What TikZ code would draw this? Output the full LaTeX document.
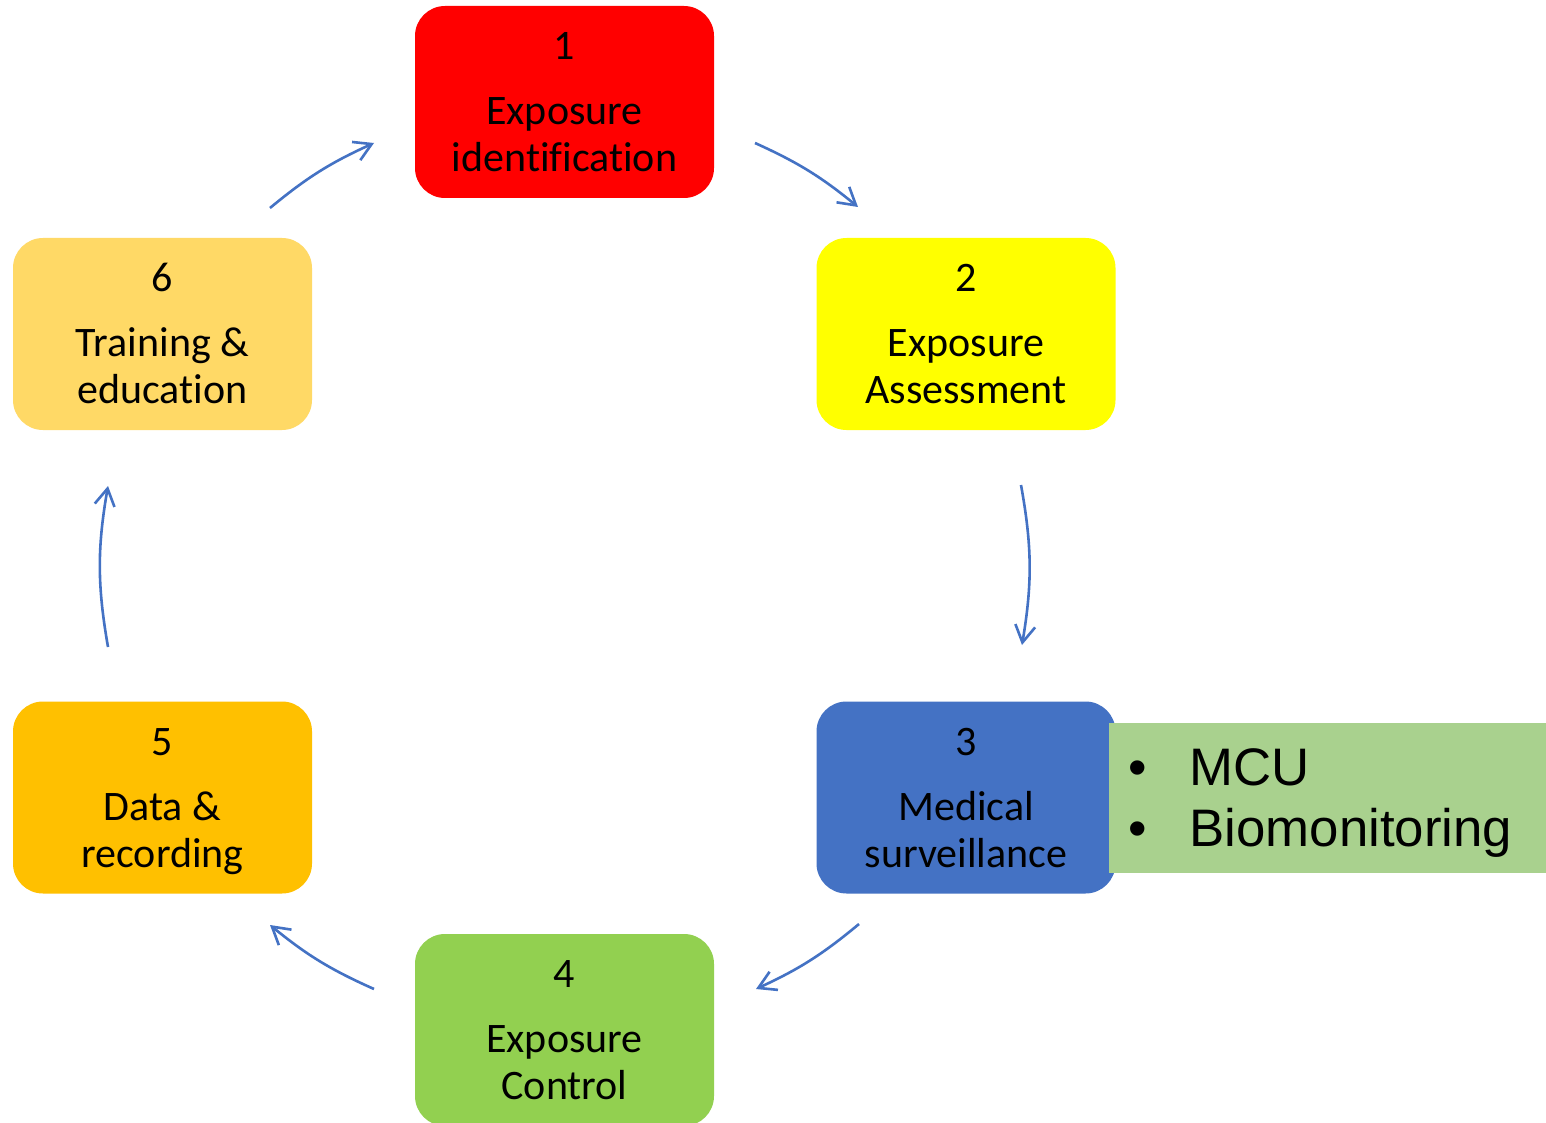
\documentclass[tikz,border=0pt]{standalone}
\usepackage{fontspec}
\setmainfont[Ligatures=NoCommon]{Carlito}
\newfontfamily\arialfont{Liberation Sans}
\usetikzlibrary{arrows.meta}
\definecolor{boxred}{HTML}{FF0000}
\definecolor{boxyellow}{HTML}{FFFF00}
\definecolor{boxblue}{HTML}{4472C4}
\definecolor{boxgreen}{HTML}{92D050}
\definecolor{boxorange}{HTML}{FFC000}
\definecolor{boxgold}{HTML}{FFD966}
\definecolor{notegreen}{HTML}{A9D18E}
\definecolor{arrowblue}{HTML}{4472C4}
\newcommand\cyclebox[7]{%
  \node[stepbox, fill=#4] (#1) at (#2,#3) {};
  \node[boxtext] (#1-n) at ([yshift=-27pt]#1.north) {#5};
  \node[boxtext] (#1-a) at ([yshift=-59.5pt]#1.north) {#6};
  \node[boxtext] (#1-b) at ([yshift=-83pt]#1.north) {#7};
}
\begin{document}
\begin{tikzpicture}[x=0.5pt,y=-0.5pt,
  stepbox/.style={rounded corners=15pt, minimum width=149.5pt, minimum height=96pt, inner sep=0pt, draw=none},
  boxtext/.style={anchor=base, inner sep=0pt, font=\fontsize{21pt}{25pt}\selectfont},
  notetext/.style={inner sep=0pt, font=\arialfont\fontsize{26.4pt}{31pt}\selectfont},
  cyc/.style={draw=arrowblue, line width=1.3pt, -{Straight Barb[length=8.5pt,width=10pt]}}]
\useasboundingbox (0,0) rectangle (1546,1123);
\fill[white] (0,0) rectangle (1546,1123);

\cyclebox{b1}{564.5}{102}{boxred}{1}{Exposure}{identification}
\cyclebox{b2}{966}{334}{boxyellow}{2}{Exposure}{Assessment}
\cyclebox{b3}{966}{797.5}{boxblue}{3}{Medical}{surveillance}
\cyclebox{b4}{564.5}{1030}{boxgreen}{4}{Exposure}{Control}
\cyclebox{b5}{162.5}{797.5}{boxorange}{5}{Data \&}{recording}
\cyclebox{b6}{162.5}{334}{boxgold}{6}{Training \&}{education}

\node[fill=notegreen, minimum width=218.5pt, minimum height=75pt, inner sep=0pt] (notes) at (1327.5,798) {};
\node[notetext, anchor=base] (bul1) at (1138,785) {•};
\node[notetext, anchor=base] (bul2) at (1138,846) {•};
\node[notetext, anchor=base west] (mcu) at (1189,785) {MCU};
\node[notetext, anchor=base west] (bio) at (1189,846) {Biomonitoring};

\coordinate (a1s) at (270,208);  \coordinate (a1e) at (374,143);
\coordinate (a2s) at (755,143);  \coordinate (a2e) at (858,207);
\coordinate (a3s) at (1021,485); \coordinate (a3e) at (1022,645);
\coordinate (a4s) at (859,924);  \coordinate (a4e) at (756,989);
\coordinate (a5s) at (374,989);  \coordinate (a5e) at (270,925);
\coordinate (a6s) at (108,647);  \coordinate (a6e) at (108,486);

\draw[cyc] (a1s) to[bend left=7.6] (a1e);
\draw[cyc] (a2s) to[bend left=7.5] (a2e);
\draw[cyc] (a3s) to[bend left=9.9] (a3e);
\draw[cyc] (a4s) to[bend left=7.5] (a4e);
\draw[cyc] (a5s) to[bend left=7.6] (a5e);
\draw[cyc] (a6s) to[bend left=9.9] (a6e);
\end{tikzpicture}
\end{document}
